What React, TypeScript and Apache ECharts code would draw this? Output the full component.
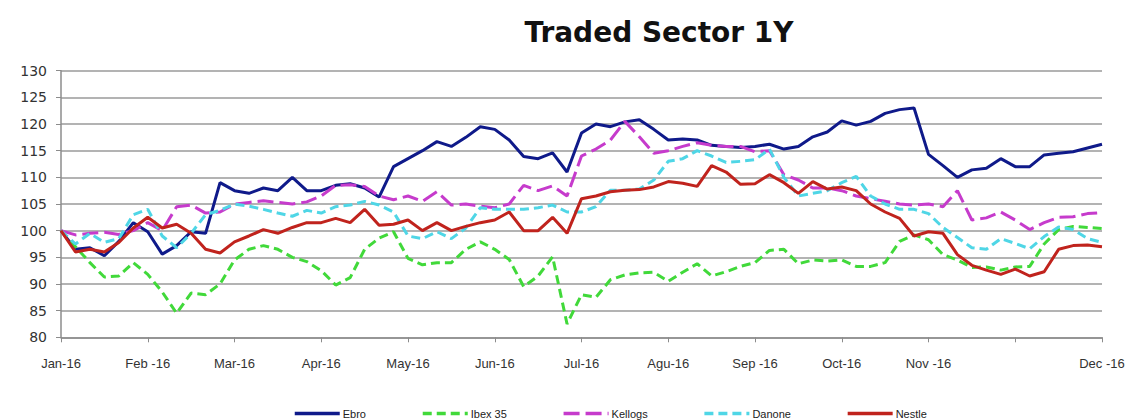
import React, { useEffect, useRef } from "react";
import * as echarts from "echarts";

// x positions: 6 samples per month, 0 = Jan-16, 72 = Dec-16
const tickLabels = ["Jan-16", "Feb -16", "Mar-16", "Apr-16", "May-16", "Jun-16", "Jul-16", "Agu-16", "Sep -16", "Oct-16", "Nov -16", "", "Dec -16"];
const yTicks = [80, 85, 90, 95, 100, 105, 110, 115, 120, 125, 130];

const ebro = [
  100, 96.5, 96.8, 95.3, 98, 101.5, 99.8, 95.6, 97.2, 99.8,
  99.5, 109, 107.5, 107, 108, 107.5, 110, 107.5, 107.5, 108.5,
  108.8, 108, 106.3, 112, 113.5, 115, 116.7, 115.8, 117.5, 119.5,
  119, 117, 113.9, 113.5, 114.6, 111, 118.3, 120, 119.5, 120.4,
  120.8, 119, 117, 117.2, 117, 116, 115.8, 115.6, 115.8, 116.2,
  115.3, 115.8, 117.6, 118.5, 120.6, 119.8, 120.5, 122, 122.7, 123,
  114.3, 112.2, 110, 111.4, 111.7, 113.5, 112, 112, 114.2, 114.5,
  114.8, 115.5, 116.2,
];
const ibex = [
  100, 97, 94, 91.3, 91.5, 94, 91.8, 88.5, 84.5, 88.3,
  88, 90, 94.5, 96.5, 97.2, 96.5, 95, 94.2, 92.5, 89.8,
  91.2, 96.5, 98.6, 99.8, 94.8, 93.6, 94, 94, 96.5, 97.9,
  96.5, 94.6, 89.5, 91.5, 95.1, 82.5, 88, 87.5, 90.8, 91.7,
  92.1, 92.2, 90.5, 92.2, 93.8, 91.5, 92.3, 93.3, 94, 96.3,
  96.5, 93.8, 94.5, 94.3, 94.5, 93.3, 93.3, 94, 98, 99.2,
  98.3, 95.5, 94.5, 93.1, 93.2, 92.6, 93.2, 93.3, 97.5, 100.2,
  100.8, 100.6, 100.4,
];
const kellogs = [
  100, 99.2, 99.5, 99.7, 99.3, 100, 101.5, 100, 104.5, 104.8,
  103.3, 103.5, 105, 105.3, 105.6, 105.3, 105, 105.4, 106.5, 108.5,
  108.6, 108.3, 106.5, 105.8, 106.5, 105.5, 107.3, 104.8, 105, 104.6,
  104.3, 105, 108.5, 107.5, 108.4, 106.5, 114, 115.3, 117, 120.5,
  117.6, 114.5, 115, 115.8, 116.5, 116, 115.8, 115.8, 114.8, 115,
  110.5, 109.5, 108, 108, 107.5, 106.5, 106, 105.5, 105, 104.8,
  105, 104.5, 107.5, 102, 102.4, 103.5, 102, 100.2, 101.5, 102.5,
  102.6, 103.2, 103.4,
];
const danone = [
  100, 97.5, 99.5, 97.8, 98.5, 103, 104, 99, 96.8, 99.5,
  103, 103.8, 105, 104.6, 104, 103.3, 102.7, 103.8, 103.3, 104.5,
  104.8, 105.5, 104.8, 103.5, 99, 98.5, 99.8, 98.5, 100.5, 104.3,
  104, 104, 104, 104.3, 104.8, 103.5, 103.5, 104.5, 107.6, 107.6,
  107.8, 109.5, 113, 113.5, 115, 114, 112.8, 113, 113.3, 115.3,
  110, 106.5, 107, 107.5, 109, 110.2, 106.5, 105, 104, 104,
  103.2, 100.6, 98.7, 96.8, 96.5, 98.5, 97.6, 96.6, 98.9, 100.7,
  100.2, 98.5, 97.8,
];
const nestle = [
  100, 96, 96.5, 96, 97.8, 100.5, 102.5, 100.5, 101.2, 99.5,
  96.5, 95.8, 97.9, 99, 100.2, 99.5, 100.6, 101.5, 101.5, 102.3,
  101.5, 104, 101, 101.2, 102, 100, 101.5, 100, 100.8, 101.5,
  102, 103.5, 100, 100, 102.5, 99.5, 106, 106.5, 107.3, 107.6,
  107.7, 108.2, 109.2, 108.9, 108.3, 112.2, 111, 108.7, 108.8, 110.5,
  109, 107, 109.2, 107.8, 108.2, 107.5, 105, 103.5, 102.3, 99,
  99.8, 99.5, 95.5, 93.5, 92.6, 91.8, 92.8, 91.5, 92.3, 96.5,
  97.2, 97.3, 97,
];

const seriesDefs = [
  { name: "Ebro", data: ebro, color: "#0f1a8a", type: "solid" },
  { name: "Ibex 35", data: ibex, color: "#41d93a", type: [9, 5] },
  { name: "Kellogs", data: kellogs, color: "#c63bcc", type: [16, 6] },
  { name: "Danone", data: danone, color: "#4fd6e6", type: [9, 5] },
  { name: "Nestle", data: nestle, color: "#c0231d", type: "solid" },
];

export default function App() {
  const ref = useRef<HTMLDivElement>(null);
  useEffect(() => {
    const chart = echarts.init(ref.current as HTMLDivElement, null, { renderer: "svg" });
    chart.setOption({
      animation: false,
      backgroundColor: "#ffffff",
      title: {
        text: "Traded Sector 1Y",
        left: 654,
        top: 13,
        textAlign: "center",
        textStyle: { fontFamily: "DejaVu Sans", fontWeight: "bold", fontSize: 28, color: "#111" },
      },
      grid: { left: 61, right: 43, top: 70.7, bottom: 82.7 },
      legend: {
        left: 288,
        top: 403,
        itemWidth: 45,
        itemHeight: 10,
        itemGap: 55,
        itemStyle: { color: "transparent", borderColor: "transparent", borderWidth: 0, opacity: 0 },
        lineStyle: { width: 3.5 },
        textStyle: { fontFamily: "Liberation Sans", fontSize: 11, color: "#222", padding: [0, 0, 0, -2] },
        data: seriesDefs.map((s) => s.name),
      },
      xAxis: {
        type: "value",
        min: 0,
        max: 72,
        interval: 6,
        axisLine: { show: true, lineStyle: { color: "#8c8c8c", width: 1.5 } },
        axisTick: { show: true, length: 5, lineStyle: { color: "#8c8c8c" } },
        splitLine: { show: false },
        axisLabel: {
          margin: 20,
          fontFamily: "Liberation Sans",
          fontSize: 13,
          color: "#333",
          showMaxLabel: true,
          showMinLabel: true,
          formatter: (v: number) => tickLabels[Math.round(v / 6)] ?? "",
        },
      },
      yAxis: {
        type: "value",
        min: yTicks[0],
        max: yTicks[yTicks.length - 1],
        interval: 5,
        axisLine: { show: true, lineStyle: { color: "#8c8c8c", width: 1.5 } },
        axisTick: { show: true, length: 5, lineStyle: { color: "#8c8c8c" } },
        splitLine: { show: true, lineStyle: { color: "#9a9a9a", width: 1.5 } },
        axisLabel: { margin: 14, fontFamily: "DejaVu Sans", fontSize: 14, color: "#333" },
      },
      series: seriesDefs.map((s) => ({
        name: s.name,
        type: "line",
        symbol: "none",
        showSymbol: false,
        data: s.data.map((v, i) => [i, v]),
        itemStyle: { color: s.color },
        lineStyle: { color: s.color, width: 3, type: s.type },
      })),
    });
    return () => chart.dispose();
  }, []);
  return (
    <div
      ref={ref}
      style={{ position: "absolute", left: 0, top: 0, width: 1145, height: 420, background: "#fff" }}
    />
  );
}
